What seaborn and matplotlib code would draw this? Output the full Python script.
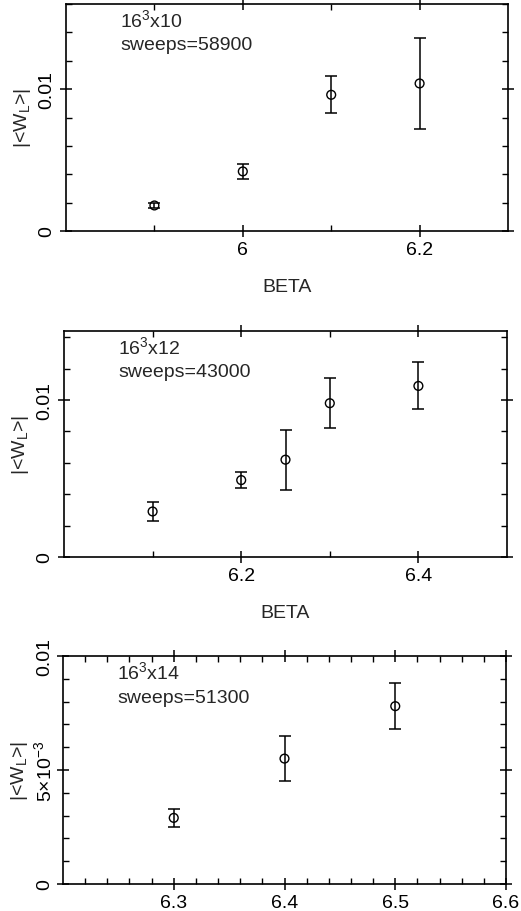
import matplotlib
matplotlib.use("Agg")
import matplotlib.pyplot as plt
import seaborn as sns
import numpy as np
import pandas as pd
from matplotlib.ticker import MultipleLocator, FixedLocator, FixedFormatter

sns.set_style("ticks")
plt.rcParams['font.family'] = ['Liberation Sans', 'DejaVu Sans']
plt.rcParams['mathtext.fontset'] = 'custom'
plt.rcParams['mathtext.rm'] = 'Liberation Sans'
plt.rcParams['mathtext.it'] = 'Liberation Sans'
plt.rcParams['mathtext.bf'] = 'Liberation Sans'

# ---- data ----
beta1 = [5.9, 6.0, 6.1, 6.2]
w1 = [0.0018, 0.0042, 0.0096, 0.0104]
e1 = [0.0002, 0.0005, 0.0013, 0.0032]

beta2 = [6.1, 6.2, 6.25, 6.3, 6.4]
w2 = [0.0029, 0.0049, 0.0062, 0.0098, 0.0109]
e2 = [0.0006, 0.0005, 0.0019, 0.0016, 0.0015]

beta3 = [6.3, 6.4, 6.5]
w3 = [0.0029, 0.0055, 0.0078]
e3 = [0.0004, 0.0010, 0.0010]

labels_lat = ["16$^3$x10", "16$^3$x12", "16$^3$x14"]
labels_sw = ["sweeps=58900", "sweeps=43000", "sweeps=51300"]

FS = 14

fig = plt.figure(figsize=(5.21, 9.12), dpi=100)
W, H = 521, 912

def axes_px(l, t, r, b):
    return fig.add_axes([l / W, 1 - b / H, (r - l) / W, (b - t) / H])

ax1 = axes_px(66, 5, 508, 232)
ax2 = axes_px(64, 332, 507, 558)
ax3 = axes_px(63, 657, 506, 885)

cfg = [
    (ax1, beta1, w1, e1, (5.8, 6.3), (0, 0.016),
     [6.0, 6.2], ["6", "6.2"], [5.9, 6.1], [0, 0.01], ["0", "0.01"], 0.002, True),
    (ax2, beta2, w2, e2, (6.0, 6.5), (0, 0.0144),
     [6.2, 6.4], ["6.2", "6.4"], [6.1, 6.3], [0, 0.01], ["0", "0.01"], 0.002, True),
    (ax3, beta3, w3, e3, (6.2, 6.6), (0, 0.01),
     [6.3, 6.4, 6.5, 6.6], ["6.3", "6.4", "6.5", "6.6"],
     list(np.round(np.arange(6.22, 6.6, 0.02), 2)),
     [0, 0.005, 0.01], ["0", r"5$\times$10$^{-3}$", "0.01"], 0.001, False),
]

for i, (ax, bx, wy, ey, xl, yl, xmaj, xmajl, xmin, ymaj, ymajl, ystep, show_xlabel) in enumerate(cfg):
    df = pd.DataFrame({"beta": bx, "w": wy, "err": ey})
    ax.errorbar(df["beta"], df["w"], yerr=df["err"], fmt="none", ecolor="black",
                elinewidth=1.1, capsize=4.5, capthick=1.1)
    sns.scatterplot(data=df, x="beta", y="w", ax=ax, marker="o", s=40,
                    facecolor="none", edgecolor="black", linewidth=1.0, zorder=3)
    ax.set_xlim(*xl)
    ax.set_ylim(*yl)
    ax.xaxis.set_major_locator(FixedLocator(xmaj))
    ax.xaxis.set_major_formatter(FixedFormatter(xmajl))
    ax.xaxis.set_minor_locator(FixedLocator(xmin))
    ax.yaxis.set_major_locator(FixedLocator(ymaj))
    ax.yaxis.set_major_formatter(FixedFormatter(ymajl))
    ax.yaxis.set_minor_locator(MultipleLocator(ystep))
    ax.tick_params(which="major", direction="inout", length=9, width=1.1,
                   top=True, right=True, labelsize=FS, color="black", labelcolor="black")
    ax.tick_params(which="minor", direction="in", length=4.5, width=1.0,
                   top=True, right=True, color="black")
    ax.tick_params(axis="x", which="major", pad=3)
    for lab in ax.get_yticklabels():
        lab.set_rotation(90)
        lab.set_va("center")
        lab.set_ha("center")
    ax.yaxis.set_tick_params(pad=9)
    for sp in ax.spines.values():
        sp.set_linewidth(1.2)
        sp.set_color("black")
    ax.set_ylabel(r"|<W$_L$>|", fontsize=FS)
    ax.yaxis.set_label_coords(-0.075, 0.5)
    if show_xlabel:
        ax.set_xlabel("BETA", fontsize=FS, labelpad=14)
    else:
        ax.set_xlabel("")
    ax.text(0.122, 0.903, labels_lat[i], transform=ax.transAxes, fontsize=FS,
            ha="left", va="baseline")
    ax.text(0.122, 0.80, labels_sw[i], transform=ax.transAxes, fontsize=FS,
            ha="left", va="baseline")
    ax.set_facecolor("white")

fig.savefig("out.png", dpi=100, facecolor="white")
